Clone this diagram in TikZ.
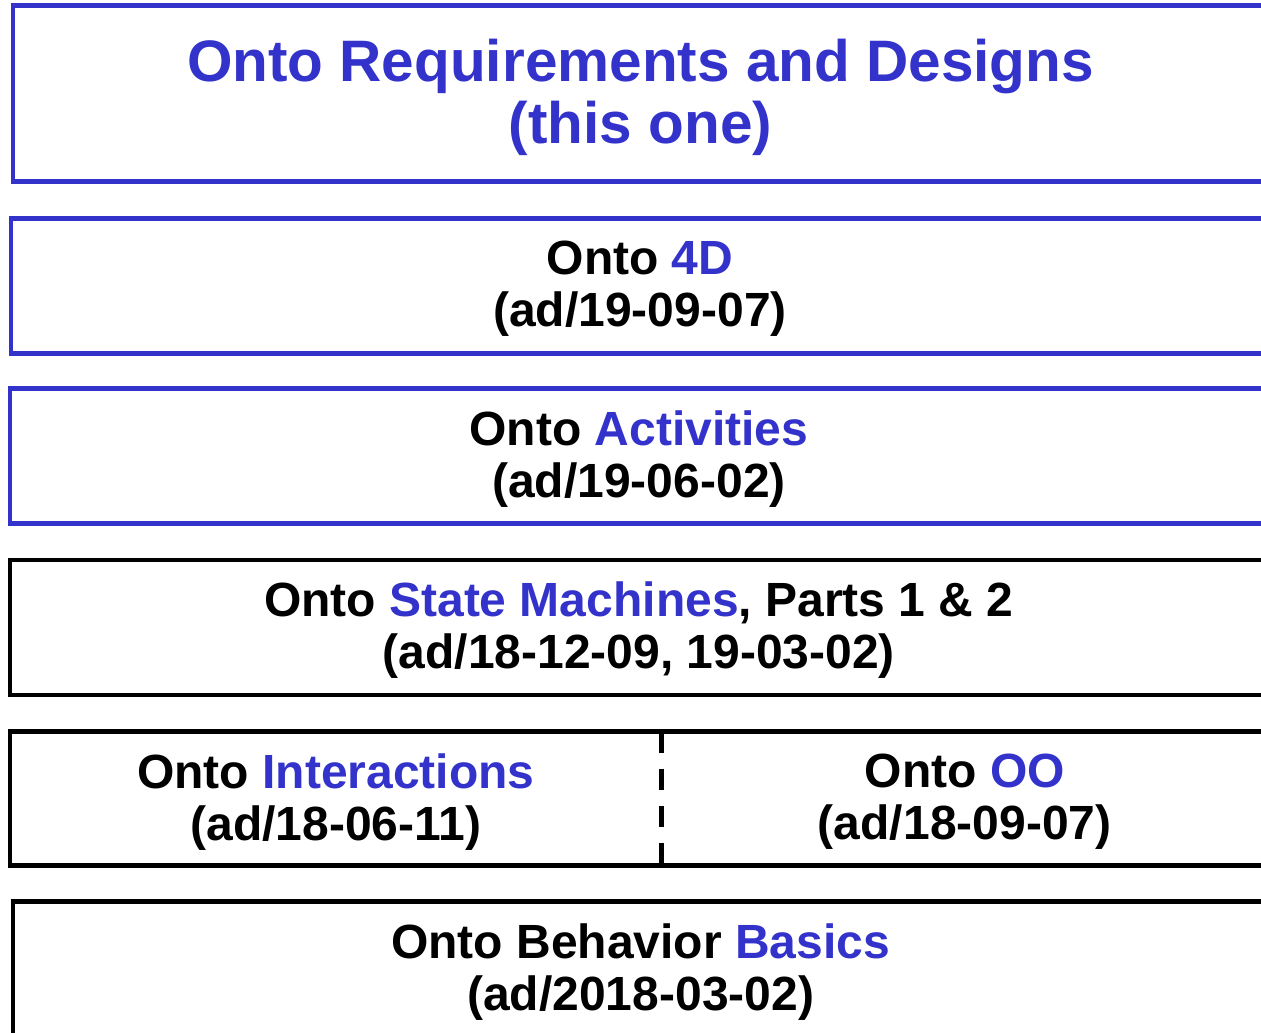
\documentclass[tikz,border=0pt]{standalone}
\usepackage{fontspec}
\setmainfont{Liberation Sans}
\definecolor{ontoblue}{HTML}{3333CC}
\tikzset{
  panel/.style={line width=4.5pt, inner sep=0pt, outer sep=0pt, anchor=north west,
    minimum height=135pt},
  bluepanel/.style={panel, draw=ontoblue},
  blackpanel/.style={panel, draw=black},
  paneltext/.style={font=\bfseries\fontsize{48}{52}\selectfont, align=center,
    inner sep=0pt, text=black, yshift=-3pt},
  titletext/.style={font=\bfseries\fontsize{58.5}{62}\selectfont, align=center,
    inner sep=0pt, text=ontoblue, yshift=-4pt},
  divider/.style={line width=5pt, dash pattern=on 21pt off 16pt},
}
\newcommand{\hl}[1]{\textcolor{ontoblue}{#1}}
\begin{document}
\begin{tikzpicture}[x=1pt, y=-1pt]
  \useasboundingbox (0,0) rectangle (1261,1033);
  \clip (0,0) rectangle (1261,1033);

  % stacked layers, top to bottom
  \node[bluepanel, minimum width=1255pt, minimum height=176pt] (b1) at (13,5.5) {};
  \node[bluepanel, minimum width=1258pt] (b2) at (11,218.5) {};
  \node[bluepanel, minimum width=1258pt] (b3) at (10,388.5) {};
  \node[blackpanel, minimum width=1258pt] (b4) at (9.8,560) {};
  \node[panel, minimum width=652pt, minimum height=134pt] (b5l) at (9.8,731.7) {};
  \node[panel, minimum width=606pt, minimum height=134pt] (b5r) at (661.7,731.7) {};
  \node[blackpanel, minimum width=1255pt] (b6) at (13.2,901.5) {};

  % split layer: solid frame, dashed separator
  \draw[line width=4.5pt] (b5l.north west) rectangle (b5r.south east);
  \draw[divider] (b5l.north east) -- (b5l.south east);

  % labels
  \node[titletext] (t1) at (b1.center)
    {Onto Requirements and Designs\\(this one)};
  \node[paneltext] (t2) at (b2.center)
    {Onto \hl{4D}\\(ad/19-09-07)};
  \node[paneltext] (t3) at (b3.center)
    {Onto \hl{Activities}\\(ad/19-06-02)};
  \node[paneltext] (t4) at (b4.center)
    {Onto \hl{State Machines}, Parts 1 \& 2\\(ad/18-12-09, 19-03-02)};
  \node[paneltext] (t5l) at (b5l.center)
    {Onto \hl{Interactions}\\(ad/18-06-11)};
  \node[paneltext] (t5r) at (b5r.center)
    {Onto \hl{OO}\\(ad/18-09-07)};
  \node[paneltext] (t6) at (b6.center)
    {Onto Behavior \hl{Basics}\\(ad/2018-03-02)};
\end{tikzpicture}
\end{document}
